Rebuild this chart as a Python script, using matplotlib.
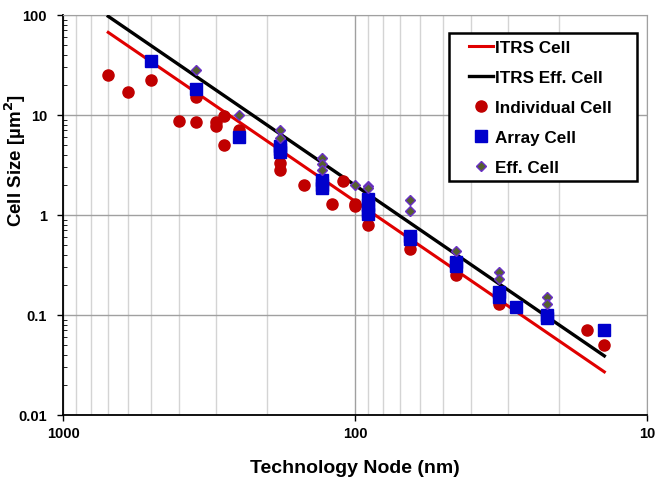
import matplotlib
matplotlib.use("Agg")
import matplotlib.pyplot as plt
from matplotlib.patches import Rectangle
from matplotlib.ticker import FixedLocator, FixedFormatter, LogLocator, NullFormatter

plt.rcParams['font.family'] = ['Liberation Sans', 'DejaVu Sans']
plt.rcParams['font.weight'] = 'bold'

# ITRS trend lines (node in nm, cell size in um^2)
itrs_nodes = [700, 14]
itrs_cell = [67, 0.027]
itrs_eff = [97, 0.039]

# individual cells
ind_nodes = [700, 600, 500, 400, 350, 350, 300, 300, 280, 280, 250, 180, 180,
             150, 120, 110, 100, 100, 90, 65, 45, 32, 16, 14]
ind_size = [25, 17, 22.5, 8.7, 15, 8.5, 8.6, 7.7, 9.8, 5.0, 7.0, 3.3, 2.8,
            2.0, 1.3, 2.2, 1.3, 1.22, 0.8, 0.46, 0.25, 0.13, 0.071, 0.05]

# array cells
arr_nodes = [500, 350, 250, 180, 180, 180, 130, 130, 130, 90, 90, 90, 90,
             65, 65, 45, 45, 32, 32, 28, 22, 22, 14]
arr_size = [35, 18, 6.0, 4.9, 4.6, 4.3, 2.24, 2.0, 1.86, 1.43, 1.25, 1.1, 1.03,
            0.62, 0.58, 0.34, 0.31, 0.168, 0.15, 0.12, 0.10, 0.093, 0.07]

# effective cells
eff_nodes = [350, 250, 180, 180, 130, 130, 130, 100, 90, 90, 65, 65, 45,
             32, 32, 22, 22]
eff_size = [28, 10, 7.0, 5.85, 3.7, 3.25, 2.85, 2.0, 1.94, 1.85, 1.4, 1.1, 0.44,
            0.27, 0.23, 0.15, 0.13]

fig = plt.figure(figsize=(6.68, 4.85), dpi=100)
ax = fig.add_axes([63 / 668, 1 - 416 / 485, 584 / 668, 400 / 485])

ax.plot(itrs_nodes, itrs_cell, color='#e00000', lw=2.2, label='ITRS Cell', zorder=3)
ax.plot(itrs_nodes, itrs_eff, color='black', lw=2.4, label='ITRS Eff. Cell', zorder=3)
ax.plot(ind_nodes, ind_size, 'o', color='#c00000', ms=8, mec='#c00000',
        label='Individual Cell', zorder=4)
ax.plot(arr_nodes, arr_size, 's', color='#0000cc', ms=8, mec='#0000cc',
        label='Array Cell', zorder=5)
ax.plot(eff_nodes, eff_size, 'D', color='#55602f', ms=4.8, mec='#6a2fc8', mew=1.0,
        label='Eff. Cell', zorder=6)

ax.set_xscale('log')
ax.set_yscale('log')
ax.set_xlim(1000, 10)
ax.set_ylim(0.01, 100)

ax.xaxis.set_major_locator(FixedLocator([1000, 100, 10]))
ax.xaxis.set_major_formatter(FixedFormatter(['1000', '100', '10']))
ax.xaxis.set_minor_locator(LogLocator(base=10, subs=range(2, 10)))
ax.xaxis.set_minor_formatter(NullFormatter())
ax.yaxis.set_major_locator(FixedLocator([0.01, 0.1, 1, 10, 100]))
ax.yaxis.set_major_formatter(FixedFormatter(['0.01', '0.1', '1', '10', '100']))
ax.yaxis.set_minor_locator(LogLocator(base=10, subs=range(2, 10)))
ax.yaxis.set_minor_formatter(NullFormatter())

ax.grid(True, which='major', color='#a0a0a0', lw=1.0, zorder=0)
ax.grid(True, which='minor', axis='x', color='#d4d4d4', lw=1.0, zorder=0)
ax.set_axisbelow(True)

ax.tick_params(which='major', length=4, width=1, labelsize=10.5, pad=4)
ax.tick_params(axis='y', which='major', pad=7.5)
ax.tick_params(axis='x', which='minor', length=0)
ax.tick_params(axis='y', which='minor', direction='in', length=3)
for lab in ax.get_xticklabels() + ax.get_yticklabels():
    lab.set_fontweight('bold')

for s in ['top', 'right']:
    ax.spines[s].set_color('#a0a0a0')
for s in ['left', 'bottom']:
    ax.spines[s].set_color('black')
    ax.spines[s].set_linewidth(1.3)

ax.set_xlabel('Technology Node (nm)', fontsize=14, fontweight='bold')
ax.xaxis.set_label_coords(0.5, -0.11)
ax.set_ylabel('Cell Size [\u00b5m$^\\mathbf{2}$]', fontsize=13.5, fontweight='bold')
ax.yaxis.set_label_coords(-0.06, 0.64)

# legend box drawn by hand so the padding can differ left/top
box = Rectangle((386 / 584, 234 / 400), 188 / 584, 148 / 400, transform=ax.transAxes,
                facecolor='white', edgecolor='black', lw=1.8, zorder=9, clip_on=False)
ax.add_patch(box)
leg = ax.legend(loc='upper left', bbox_to_anchor=(406 / 584, 375 / 400), borderaxespad=0,
                fontsize=12.3, frameon=False, handlelength=1.4, handletextpad=0.1,
                labelspacing=0.88, borderpad=0)
leg.set_zorder(10)
for t in leg.get_texts():
    t.set_fontweight('bold')

fig.savefig('out.png', dpi=100)
